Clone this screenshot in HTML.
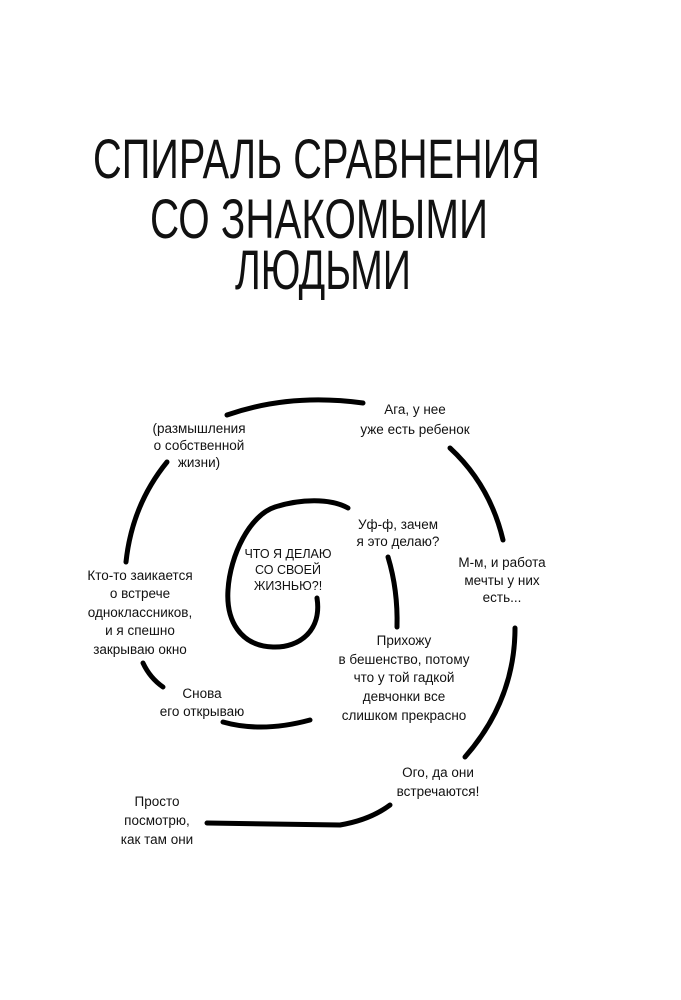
<!DOCTYPE html>
<html><head><meta charset="utf-8"><style>
html,body{margin:0;padding:0;background:#fff;width:681px;height:1000px;overflow:hidden}
svg{display:block}
text{font-family:"Liberation Sans",sans-serif;fill:#111}
.l{font-size:13.5px;text-anchor:middle}
.t{font-size:56px}
.c{font-size:12.5px;text-anchor:middle}
</style></head><body>
<svg width="681" height="1000" viewBox="0 0 681 1000">
<text class="t" x="93" y="178" textLength="447" lengthAdjust="spacingAndGlyphs">СПИРАЛЬ СРАВНЕНИЯ</text>
<text class="t" x="150" y="238" textLength="338" lengthAdjust="spacingAndGlyphs">СО ЗНАКОМЫМИ</text>
<text class="t" x="235" y="289" textLength="176" lengthAdjust="spacingAndGlyphs">ЛЮДЬМИ</text>

<g fill="none" stroke="#000" stroke-width="5" stroke-linecap="round">
<path d="M227,415 Q290,393 363,403"/>
<path d="M167,462 Q132,505 126,562"/>
<path d="M143,663 Q150,678 163,687"/>
<path d="M223,722 Q262,733 310,720"/>
<path d="M317,598 C322,630 300,648 273,647 C240,646 226,620 228,590 C230,555 250,515 275,507 C300,499 330,498 348,508"/>
<path d="M388,557 Q398,590 397,627"/>
<path d="M450,448 Q490,485 503,540"/>
<path d="M515,628 Q515,700 465,757"/>
<path d="M207,823 L340,825 Q370,820 390,805"/>
</g>

<text class="l" x="199" y="433">(размышления</text>
<text class="l" x="199" y="450">о собственной</text>
<text class="l" x="199" y="467">жизни)</text>

<text class="l" x="415" y="414">Ага, у нее</text>
<text class="l" x="415" y="434">уже есть ребенок</text>

<text class="l" x="398" y="529">Уф-ф, зачем</text>
<text class="l" x="398" y="546">я это делаю?</text>

<text class="c" x="288" y="558">ЧТО Я ДЕЛАЮ</text>
<text class="c" x="288" y="574">СО СВОЕЙ</text>
<text class="c" x="288" y="590">ЖИЗНЬЮ?!</text>

<text class="l" x="502" y="567">М-м, и работа</text>
<text class="l" x="502" y="585">мечты у них</text>
<text class="l" x="502" y="602">есть...</text>

<text class="l" x="140" y="580">Кто-то заикается</text>
<text class="l" x="140" y="598">о встрече</text>
<text class="l" x="140" y="617">одноклассников,</text>
<text class="l" x="140" y="635">и я спешно</text>
<text class="l" x="140" y="654">закрываю окно</text>

<text class="l" x="202" y="698">Снова</text>
<text class="l" x="202" y="716">его открываю</text>

<text class="l" x="404" y="645">Прихожу</text>
<text class="l" x="404" y="664">в бешенство, потому</text>
<text class="l" x="404" y="682">что у той гадкой</text>
<text class="l" x="404" y="701">девчонки все</text>
<text class="l" x="404" y="720">слишком прекрасно</text>

<text class="l" x="438" y="777">Ого, да они</text>
<text class="l" x="438" y="796">встречаются!</text>

<text class="l" x="157" y="806">Просто</text>
<text class="l" x="157" y="825">посмотрю,</text>
<text class="l" x="157" y="844">как там они</text>
</svg>
</body></html>
